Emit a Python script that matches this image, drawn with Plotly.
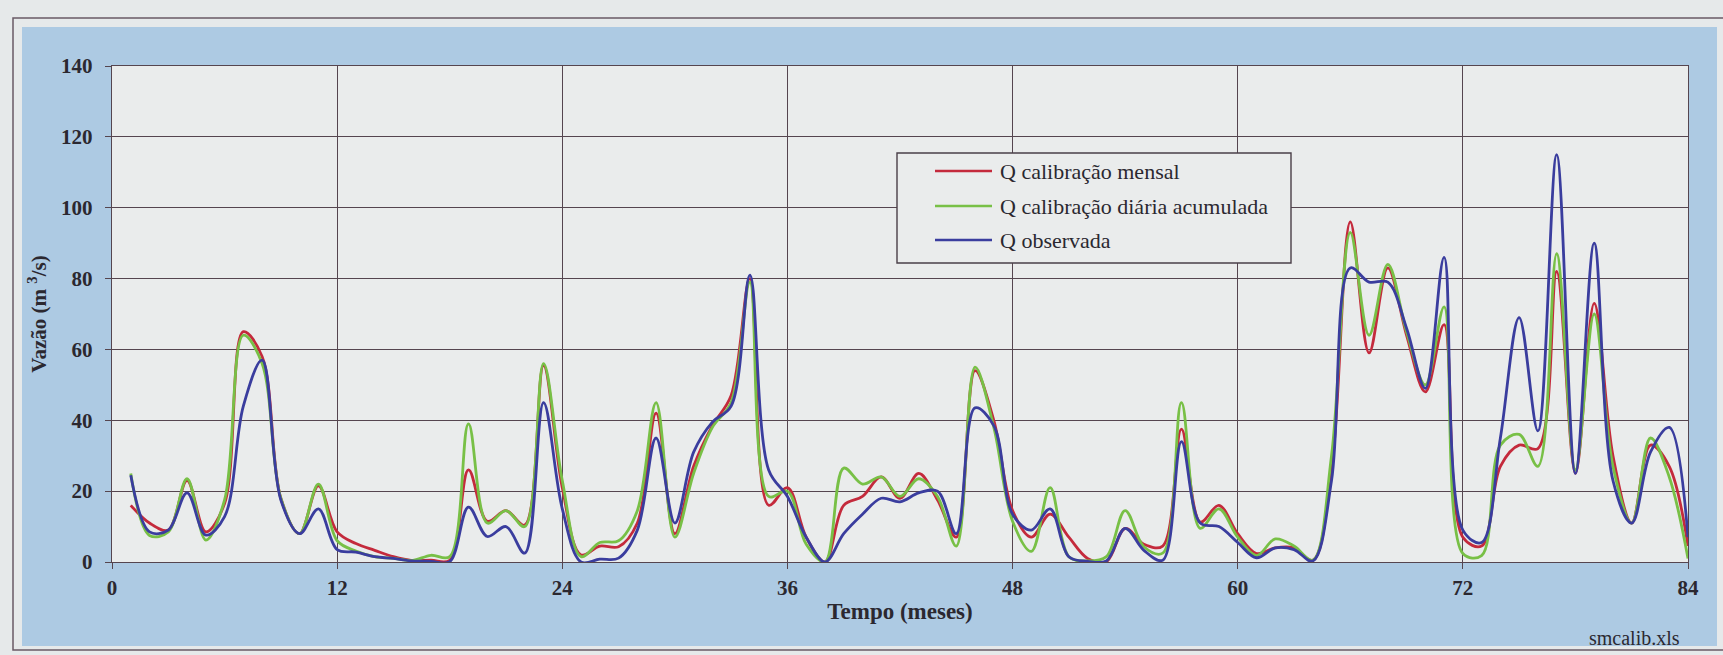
import plotly.graph_objects as go

# Monthly discharge series (m3/s), months 1..84
meses = list(range(1, 85))

q_mensal = [
    16, 11, 9, 23, 8.5, 16.5, 65, 58, 18, 8,
    21.5, 8.5, 5.2, 3.3, 1.5, 0.4, 0.5, 0.5, 26, 11.5,
    14.5, 10.4, 55.5, 21, 2, 4.5, 4.3, 11, 42, 8,
    27, 38.5, 47, 80, 16, 21, 7, 0, 16, 18.5,
    24, 18, 25, 17.5, 7, 54, 40, 14.5, 7, 13.5,
    7, 1, 0.1, 9.5, 5, 4.5, 37.5, 11.3, 16, 8,
    2.4, 4, 4, 0.5, 26, 96, 59, 83, 64, 48,
    67, 7, 4.5, 27, 33, 32, 82, 25, 73, 30,
    11, 33, 27, 4.5,
]

q_diaria_acum = [
    25, 7.5, 8.5, 23.5, 6.2, 17.5, 64, 56, 18, 8,
    22, 6, 3.1, 1.5, 1, 0.4, 1.9, 1.5, 39, 11,
    14.5, 10, 56, 23, 1.5, 5.5, 6, 14.5, 45, 7,
    25, 38, 45, 79, 18.5, 20, 5, 0, 26.5, 22,
    24, 18.5, 23.5, 18.5, 4.5, 55, 38, 11.5, 3, 21,
    1.5, 0.3, 1.5, 14.5, 4.3, 2.5, 45, 9.5, 15, 7,
    1.8, 6.5, 4.5, 0.5, 30, 93, 64, 84, 65, 50,
    72, 2.4, 1.8, 33, 36, 27, 87, 26, 70, 27,
    11, 35, 24, 1,
]

q_observada = [
    24.5, 8.5, 9, 19.5, 7.6, 12.8, 44, 57, 17.5, 8,
    15, 3.5, 2.8, 1.5, 1, 0.3, 0.2, 0.1, 15.5, 7.2,
    10, 2.5, 45, 15, 0, 0.8, 1.1, 9, 35, 11,
    31, 39.5, 44, 81, 26, 18.5, 7, 0, 8, 13.5,
    18, 17, 19.5, 20, 8, 43.5, 38.5, 13.5, 9, 15,
    1.5, 0.2, 0.3, 9.5, 3.3, 0.5, 34, 11, 10, 5.5,
    1.2, 4, 3.5, 0.3, 23, 83, 79, 79, 66, 49,
    86, 9, 5.5, 35, 69, 37, 115, 25, 90, 23,
    11, 31, 38, 7,
]

series_names = [
    "Q calibração mensal",
    "Q calibração diária acumulada",
    "Q observada",
]
series_values = [q_mensal, q_diaria_acum, q_observada]
series_colors = ["#c42a3c", "#78c046", "#3a3d9e"]

x_ticks = [0, 12, 24, 36, 48, 60, 72, 84]
y_ticks = [0, 20, 40, 60, 80, 100, 120, 140]

# Canvas geometry (pixels)
W, H = 1723, 655
PL, PR, PT, PB = 112, 1688, 66, 562


def px(x):
    return (x - PL) / (PR - PL)


def py(y):
    return (PB - y) / (PB - PT)


SERIF = "Liberation Serif"
INK = "#2b2830"
GRID = "#55454f"

fig = go.Figure()
for name, vals, col in zip(series_names, series_values, series_colors):
    fig.add_trace(go.Scatter(
        x=meses, y=vals, name=name, mode="lines",
        line=dict(color=col, width=2.8, shape="spline", smoothing=1.0),
        showlegend=False,
    ))

shapes = [
    # outer frame
    dict(type="rect", xref="paper", yref="paper",
         x0=px(13), x1=px(1740), y0=py(650), y1=py(18),
         line=dict(color="#6a5a66", width=1.5), fillcolor="rgba(0,0,0,0)", layer="below"),
    # blue chart area
    dict(type="rect", xref="paper", yref="paper",
         x0=px(22), x1=px(1717), y0=py(646), y1=py(27),
         line=dict(width=0), fillcolor="#adcae3", layer="below"),
    # plot area
    dict(type="rect", xref="paper", yref="paper",
         x0=0, x1=1, y0=0, y1=1,
         line=dict(width=0), fillcolor="#eaecec", layer="below"),
    # legend box
    dict(type="rect", xref="paper", yref="paper",
         x0=px(897), x1=px(1291), y0=py(263), y1=py(153),
         line=dict(color="#4a3f48", width=1.4), fillcolor="#eaecec", layer="above"),
]

annotations = []
legend_rows = [171, 206, 240]
for name, col, ry in zip(series_names, series_colors, legend_rows):
    shapes.append(dict(type="line", xref="paper", yref="paper",
                       x0=px(935), x1=px(992), y0=py(ry), y1=py(ry),
                       line=dict(color=col, width=2.4), layer="above"))
    annotations.append(dict(xref="paper", yref="paper", x=px(998), y=py(ry),
                            xanchor="left", yanchor="middle", showarrow=False,
                            text=name,
                            font=dict(family=SERIF, size=22, color=INK)))

annotations.append(dict(xref="paper", yref="paper", x=px(1634), y=py(638),
                        xanchor="center", yanchor="middle", showarrow=False,
                        text="smcalib.xls",
                        font=dict(family=SERIF, size=20, color=INK)))

fig.update_layout(
    width=W, height=H,
    margin=dict(l=PL, r=W - PR, t=PT, b=H - PB, pad=0),
    paper_bgcolor="#e6e9ea",
    plot_bgcolor="rgba(0,0,0,0)",
    shapes=shapes,
    annotations=annotations,
    showlegend=False,
)

fig.update_xaxes(
    range=[0, 84], tickvals=x_ticks, ticktext=[str(v) for v in x_ticks],
    showgrid=True, gridcolor=GRID, gridwidth=1.4,
    showline=True, mirror=True, linecolor=GRID, linewidth=1.4,
    ticks="outside", ticklen=6, tickcolor=GRID, tickwidth=1.4,
    ticklabelstandoff=1, zeroline=False,
    tickfont=dict(family=SERIF, size=21, color=INK, weight="bold"),
    title=dict(text="Tempo (meses)", standoff=3,
               font=dict(family=SERIF, size=23, color=INK, weight="bold")),
)

fig.update_yaxes(
    range=[0, 140], tickvals=y_ticks, ticktext=[str(v) for v in y_ticks],
    showgrid=True, gridcolor=GRID, gridwidth=1.4,
    showline=True, mirror=True, linecolor=GRID, linewidth=1.4,
    ticks="outside", ticklen=6, tickcolor=GRID, tickwidth=1.4,
    ticklabelstandoff=8, zeroline=False,
    tickfont=dict(family=SERIF, size=21, color=INK, weight="bold"),
    title=dict(text="Vazão (m <sup>3</sup>/s)", standoff=8,
               font=dict(family=SERIF, size=21, color=INK, weight="bold")),
)

fig.write_html("out.html")
